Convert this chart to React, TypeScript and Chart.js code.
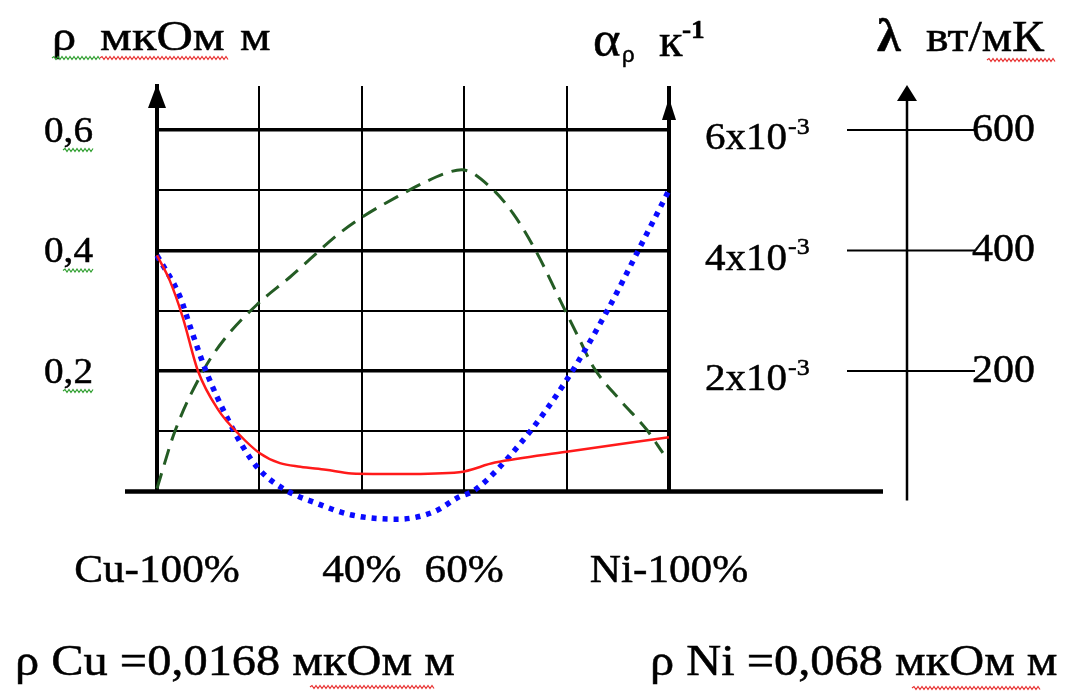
import React, { useEffect, useRef } from 'react';
import { Chart, registerables } from 'chart.js';

Chart.register(...registerables);

// ---------- data ----------
// composition axis (Cu -> Ni, % Ni)
const compositionTicks = [0, 20, 40, 60, 80, 100];
const compositionLabels = ['Cu-100%', '', '40%', '60%', '', 'Ni-100%'];

// left axis: resistivity rho, мкОм·м
const rhoTicks = [0, 0.1, 0.2, 0.3, 0.4, 0.5, 0.6];
const rhoLabelValues = [0.2, 0.4, 0.6];
const rhoLabels = ['0,2', '0,4', '0,6'];

// middle axis: temperature coefficient alpha, x10^-3 K^-1
const alphaLabelValues = [2, 4, 6];
const alphaLabels = ['2x10', '4x10', '6x10'];
const alphaExp = '-3';

// right axis: thermal conductivity lambda, Вт/мК
const lambdaLabelValues = [200, 400, 600];
const lambdaLabels = ['200', '400', '600'];

// rho (red, solid)
const rhoX = [0, 2.5, 5, 8, 12, 16, 20, 24, 28, 33, 38, 48, 59, 66, 80, 100];
const rhoY = [0.392, 0.35, 0.29, 0.2, 0.135, 0.095, 0.064, 0.047, 0.041, 0.036, 0.03, 0.029, 0.032, 0.048, 0.066, 0.09];

// alpha (blue, dotted), x10^-3 K^-1
const alphaX = [0, 4.5, 6.5, 9.7, 13.6, 16.8, 20, 25, 31, 38, 47, 54, 59, 62, 71, 80, 88, 94, 100];
const alphaY = [3.92, 3.23, 2.73, 1.97, 1.24, 0.74, 0.36, 0.03, -0.19, -0.39, -0.46, -0.34, -0.09, 0.02, 0.8, 1.85, 3.01, 4.0, 5.0];

// lambda (green, dashed), Вт/мК
const lambdaX = [0, 3.5, 9, 13, 19.5, 26, 35.7, 40, 47.5, 52, 56.6, 59.5, 65, 69.5, 74.2, 78.7, 82.6, 85.2, 90.4, 95.7, 98.8];
const lambdaY = [5, 100, 200, 251, 310, 356, 429, 455, 492, 512, 529, 534, 506, 462, 396, 318, 251, 207, 152, 102, 64];

// ---------- helpers ----------
const SERIF = "'Liberation Serif', 'Times New Roman', serif";
const SANS = "'Liberation Sans', Arial, sans-serif";

function txt(
  ctx: CanvasRenderingContext2D,
  s: string,
  x: number,
  y: number,
  size: number,
  align: CanvasTextAlign = 'left',
  sx = 1,
  weight = 'normal',
  family = SERIF
) {
  ctx.save();
  ctx.font = `${weight} ${size}px ${family}`;
  ctx.textAlign = align;
  ctx.textBaseline = 'alphabetic';
  ctx.fillStyle = '#000';
  ctx.strokeStyle = '#000';
  ctx.lineWidth = 0.5;
  ctx.translate(x, y);
  ctx.scale(sx, 1);
  ctx.fillText(s, 0, 0);
  ctx.strokeText(s, 0, 0);
  const w = ctx.measureText(s).width * sx;
  ctx.restore();
  return w;
}

function wavy(ctx: CanvasRenderingContext2D, x1: number, x2: number, y: number, color: string) {
  ctx.save();
  ctx.strokeStyle = color;
  ctx.lineWidth = 1.2;
  ctx.beginPath();
  ctx.moveTo(x1, y);
  let up = true;
  for (let x = x1; x < x2; x += 2) {
    ctx.lineTo(x + 2, up ? y - 1.5 : y + 1.5);
    up = !up;
  }
  ctx.stroke();
  ctx.restore();
}

function tri(ctx: CanvasRenderingContext2D, cx: number, tipY: number, half: number, h: number) {
  ctx.beginPath();
  ctx.moveTo(cx, tipY);
  ctx.lineTo(cx - half, tipY + h);
  ctx.lineTo(cx + half, tipY + h);
  ctx.closePath();
  ctx.fill();
}

function seg(ctx: CanvasRenderingContext2D, x1: number, y1: number, x2: number, y2: number) {
  ctx.beginPath();
  ctx.moveTo(x1, y1);
  ctx.lineTo(x2, y2);
  ctx.stroke();
}

const decorPlugin = {
  id: 'decor',
  beforeDatasetsDraw(chart: any) {
    const { ctx, chartArea: ca, scales } = chart;
    const y0 = scales.y.getPixelForValue(0);
    ctx.save();
    ctx.fillStyle = '#000';
    ctx.strokeStyle = '#000';
    // extended baseline
    ctx.lineWidth = 4.5;
    seg(ctx, ca.left - 32, y0, ca.right + 214, y0);
    // arrows on left & right axes
    tri(ctx, ca.left, ca.top - 2, 9, 24);
    tri(ctx, ca.right, ca.top + 12, 7, 22);
    // lambda axis
    const lx = ca.right + 238;
    ctx.lineWidth = 2.5;
    seg(ctx, lx, ca.top + 6, lx, y0 + 9);
    tri(ctx, lx, ca.top - 1, 10, 16);
    // lambda tick lines
    ctx.lineWidth = 2;
    for (const v of lambdaLabelValues) {
      const py = scales.yL.getPixelForValue(v);
      seg(ctx, ca.right + 178, py, ca.right + 306, py);
    }
    ctx.restore();
  },
  afterDraw(chart: any) {
    const { ctx, chartArea: ca, scales } = chart;
    const y0 = scales.y.getPixelForValue(0);

    // left rho labels
    rhoLabelValues.forEach((v, i) => {
      const py = scales.y.getPixelForValue(v);
      const right = ca.left - 64;
      txt(ctx, rhoLabels[i], right, py + 12, 35, 'right', 1.12);
      wavy(ctx, right - 30, right, py + 20, '#2e9e2e');
    });

    // composition labels
    compositionTicks.forEach((v, i) => {
      const lab = compositionLabels[i];
      if (!lab) return;
      txt(ctx, lab, scales.x.getPixelForValue(v), y0 + 90, 40, 'center', 1.08);
    });

    // alpha labels
    alphaLabelValues.forEach((v, i) => {
      const py = scales.yA.getPixelForValue(v) + 7;
      const w = txt(ctx, alphaLabels[i], ca.right + 36, py + 12.5, 38, 'left', 1.08);
      txt(ctx, alphaExp, ca.right + 36 + w + 1, py - 3, 24, 'left', 1.08);
    });

    // lambda labels
    const lx = ca.right + 238;
    lambdaLabelValues.forEach((v, i) => {
      const py = scales.yL.getPixelForValue(v);
      txt(ctx, lambdaLabels[i], lx + 65, py + 11, 40, 'left', 1.05);
    });

    // axis titles
    txt(ctx, 'ρ', 52, 50, 42, 'left', 1.15);
    txt(ctx, 'мкОм', 100, 50, 42, 'left', 1.2);
    txt(ctx, 'м', 240, 50, 42, 'left', 1.15);
    wavy(ctx, 52, 100, 58, '#2e9e2e');
    wavy(ctx, 100, 228, 58, '#e83030');

    txt(ctx, 'α', 593, 56, 50, 'left', 1.05);
    txt(ctx, 'ρ', 622, 62, 22, 'left', 1.0, 'normal', SANS);
    txt(ctx, 'к', 659, 56, 46, 'left', 1.05);
    txt(ctx, '-1', 682, 38, 26, 'left', 1.05, 'bold');

    txt(ctx, 'λ', 877, 51, 46, 'left', 1.05, 'bold');
    txt(ctx, 'вт/мК', 926, 51, 44, 'left', 1.09);
    wavy(ctx, 987, 1055, 60, '#e83030');

    // footer
    txt(ctx, 'ρ Cu =0,0168 мкОм м', 15, 675, 44, 'left', 1.1);
    wavy(ctx, 310, 433, 687, '#e83030');
    txt(ctx, 'ρ Ni =0,068 мкОм м', 650, 675, 44, 'left', 1.1);
    wavy(ctx, 912, 1040, 688, '#e83030');
  },
};

const TOP_FRACTION = 0.673 / 0.6; // axis top relative to highest labelled gridline

export default function App() {
  const ref = useRef<HTMLCanvasElement | null>(null);

  useEffect(() => {
    if (!ref.current) return;
    const chart = new Chart(ref.current, {
      type: 'line',
      data: {
        datasets: [
          {
            label: 'ρ',
            data: rhoX.map((x, i) => ({ x, y: rhoY[i] })),
            yAxisID: 'y',
            borderColor: '#ff1a1a',
            borderWidth: 2.5,
            pointRadius: 0,
            cubicInterpolationMode: 'monotone',
            clip: false,
          },
          {
            label: 'α',
            data: alphaX.map((x, i) => ({ x, y: alphaY[i] })),
            yAxisID: 'yA',
            borderColor: '#0a0aff',
            borderWidth: 5.5,
            borderDash: [5, 6],
            borderCapStyle: 'butt',
            pointRadius: 0,
            cubicInterpolationMode: 'monotone',
            clip: false,
          },
          {
            label: 'λ',
            data: lambdaX.map((x, i) => ({ x, y: lambdaY[i] })),
            yAxisID: 'yL',
            borderColor: '#245c24',
            borderWidth: 3,
            borderDash: [16, 9],
            pointRadius: 0,
            cubicInterpolationMode: 'monotone',
            clip: false,
          },
        ] as any,
      },
      options: {
        animation: false,
        responsive: true,
        maintainAspectRatio: false,
        layout: { padding: { left: 0, right: 421, top: 86, bottom: 0 } },
        plugins: { legend: { display: false }, tooltip: { enabled: false } },
        scales: {
          x: {
            type: 'linear',
            min: 0,
            max: 100,
            afterBuildTicks: (s: any) => {
              s.ticks = compositionTicks.map((value) => ({ value }));
            },
            afterFit: (s: any) => {
              s.height = 199.5;
            },
            ticks: { display: false },
            border: { display: false },
            grid: {
              drawTicks: false,
              color: '#000',
              lineWidth: (c: any) => (c.tick.value === 0 ? 0 : c.tick.value === 100 ? 4 : 2),
            },
          },
          y: {
            type: 'linear',
            min: 0,
            max: 0.6 * TOP_FRACTION,
            afterBuildTicks: (s: any) => {
              s.ticks = rhoTicks.map((value) => ({ value }));
            },
            afterFit: (s: any) => {
              s.width = 157;
            },
            ticks: { display: false },
            border: { display: true, color: '#000', width: 4 },
            grid: {
              drawTicks: false,
              color: '#000',
              lineWidth: (c: any) => {
                const v = Math.round(c.tick.value * 10);
                if (v === 0) return 0;
                return v % 2 === 0 ? 3.5 : 2;
              },
            },
          },
          yA: {
            type: 'linear',
            display: false,
            min: 0,
            max: 6 * TOP_FRACTION,
          },
          yL: {
            type: 'linear',
            display: false,
            min: 0,
            max: 600 * TOP_FRACTION,
          },
        },
      } as any,
      plugins: [decorPlugin],
    });
    return () => chart.destroy();
  }, []);

  return (
    <div style={{ position: 'absolute', left: 0, top: 0, width: 1090, height: 691, background: '#fff' }}>
      <canvas ref={ref} />
    </div>
  );
}
